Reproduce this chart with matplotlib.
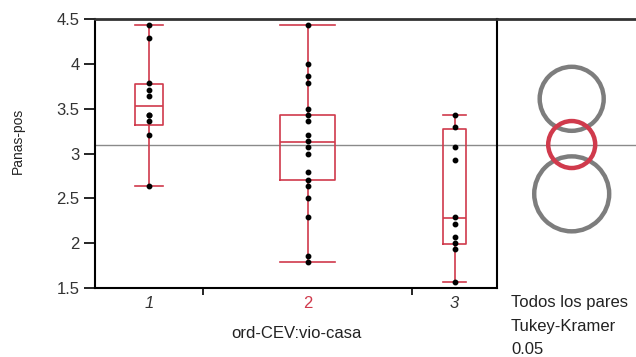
import matplotlib
matplotlib.use("Agg")
import matplotlib.pyplot as plt
import numpy as np
from matplotlib.patches import Circle

plt.rcParams['font.family'] = ['Liberation Sans', 'DejaVu Sans']

# data
groups = ['1', '2', '3']
g1 = [4.43, 4.29, 3.79, 3.71, 3.64, 3.43, 3.43, 3.36, 3.21, 2.64]
g2 = [4.43, 4.00, 3.86, 3.79, 3.50, 3.43, 3.36, 3.21, 3.14, 3.07, 3.00,
      2.79, 2.71, 2.64, 2.50, 2.29, 1.86, 1.79]
g3 = [3.43, 3.29, 3.07, 2.93, 2.29, 2.21, 2.07, 2.00, 1.93, 1.57]
q1 = [3.32, 2.71, 1.99]
med = [3.53, 3.13, 2.28]
q3 = [3.78, 3.43, 3.27]
wlo = [2.64, 1.79, 1.57]
whi = [4.43, 4.43, 3.43]
means = [3.61, 3.10, 2.55]
radii = [0.357, 0.262, 0.418]
grand_mean = 3.10

red = '#d03a4c'
gray = '#7d7d7d'

# group widths (proportional to group size, as JMP draws them)
gw = np.array([108, 209, 85], dtype=float)
edges = np.concatenate([[0], np.cumsum(gw)])
centers = (edges[:-1] + edges[1:]) / 2
bw = gw * 0.26

fig = plt.figure(figsize=(6.36, 3.57), dpi=100)
ax = fig.add_axes([95/636, 1-288/357, 402/636, 269/357])

stats = []
for i in range(3):
    stats.append(dict(med=med[i], q1=q1[i], q3=q3[i], whislo=wlo[i], whishi=whi[i]))
ax.bxp(stats, positions=centers, widths=bw, capwidths=bw, showfliers=False,
       boxprops=dict(color=red, lw=1.2), medianprops=dict(color=red, lw=1.2),
       whiskerprops=dict(color=red, lw=1.2), capprops=dict(color=red, lw=1.2))

for i, g in enumerate([g1, g2, g3]):
    ax.plot([centers[i]] * len(g), g, 'o', color='black', ms=3.2, zorder=5)

ax.axhline(grand_mean, color='#8a8a8a', lw=1, zorder=0)

ax.set_xlim(0, edges[-1])
ax.set_ylim(1.5, 4.5)
ax.set_yticks([1.5, 2, 2.5, 3, 3.5, 4, 4.5])
ax.set_yticklabels(['1.5', '2', '2.5', '3', '3.5', '4', '4.5'])
ax.set_xticks(edges[1:-1])
ax.set_xticklabels([])
ax.tick_params(axis='x', length=5, width=1.2, color='black')
ax.tick_params(axis='y', length=8, width=1.2, labelsize=12, labelcolor='#333333', pad=3)
for i, lab in enumerate(groups):
    if i == 1:
        ax.text(centers[i], -0.03, lab, transform=ax.get_xaxis_transform(),
                ha='center', va='top', color=red, fontsize=12)
    else:
        ax.text(centers[i], -0.03, lab, transform=ax.get_xaxis_transform(),
                ha='center', va='top', color='#333333', fontsize=12, style='italic')
ax.spines['right'].set_visible(False)
for s in ['left', 'bottom', 'top']:
    ax.spines[s].set_linewidth(1.5)
ax.spines['top'].set_color('#333333')
ax.spines['top'].set_linewidth(2)

ax.set_xlabel('ord-CEV:vio-casa', fontsize=12, color='#222222', labelpad=19)
fig.text(18/636, 1-141/357, 'Panas-pos', rotation=90, ha='center', va='center',
         fontsize=10, color='#222222')

# comparison circles panel
ax2 = fig.add_axes([497/636, 1-288/357, 139/636, 269/357])
xr = 3 * 139 / 269
ax2.set_xlim(0, xr)
ax2.set_ylim(1.5, 4.5)
cx = (571.7 - 497) / 139 * xr
for i in range(3):
    c = red if i == 1 else gray
    ax2.add_patch(Circle((cx, means[i]), radii[i], fill=False, ec=c, lw=3.2,
                         zorder=3 if i == 1 else 2))
ax2.axhline(grand_mean, color='#8a8a8a', lw=1, zorder=1)
ax2.set_xticks([])
ax2.set_yticks([])
ax2.spines['right'].set_visible(False)
ax2.spines['bottom'].set_visible(False)
ax2.spines['left'].set_linewidth(1.5)
ax2.spines['top'].set_linewidth(2)
ax2.spines['top'].set_color('#333333')

tx = 511 / 636
fig.text(tx, 1-302/357, 'Todos los pares', fontsize=12, va='center', color='#222222')
fig.text(tx, 1-326/357, 'Tukey-Kramer', fontsize=12, va='center', color='#222222')
fig.text(tx, 1-350/357, '0.05', fontsize=12, va='center', color='#222222')

fig.savefig('out.png', dpi=100)
